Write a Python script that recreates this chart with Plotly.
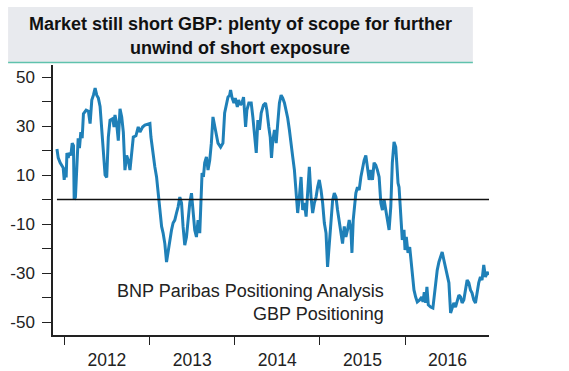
import pandas as pd
import plotly.graph_objects as go

# Weekly GBP positioning (decimal year, index value)
year_frac = [
    2011.915, 2011.930, 2011.953, 2011.988, 2012.000, 2012.015, 2012.023, 2012.032, 2012.047, 2012.058,
    2012.078, 2012.094, 2012.109, 2012.117, 2012.132, 2012.149, 2012.164, 2012.179, 2012.195, 2012.211,
    2012.226, 2012.257, 2012.284, 2012.304, 2012.324, 2012.343, 2012.363, 2012.382, 2012.401, 2012.421,
    2012.441, 2012.460, 2012.480, 2012.499, 2012.518, 2012.538, 2012.570, 2012.585, 2012.596, 2012.616,
    2012.635, 2012.655, 2012.675, 2012.694, 2012.713, 2012.733, 2012.752, 2012.772, 2012.792, 2012.811,
    2012.842, 2012.869, 2012.889, 2012.920, 2012.947, 2012.986,
    2013.006, 2013.018, 2013.033, 2013.049, 2013.064, 2013.084, 2013.103, 2013.123, 2013.143, 2013.161,
    2013.181, 2013.201, 2013.220, 2013.240, 2013.260, 2013.278, 2013.298, 2013.318, 2013.337, 2013.357,
    2013.377, 2013.395, 2013.415, 2013.435, 2013.454, 2013.474, 2013.494, 2013.512, 2013.532, 2013.552,
    2013.571, 2013.591, 2013.602, 2013.618, 2013.634, 2013.649, 2013.669, 2013.688, 2013.708, 2013.727,
    2013.746, 2013.766, 2013.786, 2013.805, 2013.836, 2013.863, 2013.883, 2013.903, 2013.922, 2013.942,
    2013.953, 2013.968, 2013.992,
    2014.008, 2014.032, 2014.047, 2014.070, 2014.090, 2014.105, 2014.129, 2014.144, 2014.167, 2014.195,
    2014.214, 2014.234, 2014.254, 2014.273, 2014.292, 2014.312, 2014.339, 2014.363, 2014.378, 2014.401,
    2014.418, 2014.433, 2014.448, 2014.468, 2014.488, 2014.506, 2014.526, 2014.546, 2014.565, 2014.585,
    2014.605, 2014.623, 2014.643, 2014.663, 2014.682, 2014.702, 2014.722, 2014.740, 2014.760, 2014.780,
    2014.799, 2014.819, 2014.839, 2014.857, 2014.877, 2014.897, 2014.916, 2014.936, 2014.956, 2014.974,
    2014.994,
    2015.014, 2015.033, 2015.053, 2015.073, 2015.091, 2015.111, 2015.131, 2015.150, 2015.170, 2015.190,
    2015.208, 2015.228, 2015.248, 2015.267, 2015.287, 2015.306, 2015.325, 2015.345, 2015.365, 2015.377,
    2015.392, 2015.407, 2015.423, 2015.442, 2015.462, 2015.482, 2015.501, 2015.520, 2015.540, 2015.559,
    2015.579, 2015.599, 2015.618, 2015.637, 2015.657, 2015.676, 2015.696, 2015.716, 2015.735, 2015.754,
    2015.774, 2015.793, 2015.813, 2015.833, 2015.851, 2015.871, 2015.891, 2015.903, 2015.918, 2015.930,
    2015.950, 2015.968, 2015.988,
    2016.000, 2016.015, 2016.035, 2016.055, 2016.070, 2016.085, 2016.105, 2016.125, 2016.144, 2016.172,
    2016.195, 2016.211, 2016.226, 2016.242, 2016.257, 2016.273, 2016.301, 2016.327, 2016.343, 2016.359,
    2016.378, 2016.398, 2016.418, 2016.436, 2016.456, 2016.476, 2016.495, 2016.515, 2016.535, 2016.553,
    2016.573, 2016.593, 2016.612, 2016.632, 2016.652, 2016.670, 2016.690, 2016.710, 2016.729, 2016.749,
    2016.768, 2016.787, 2016.807, 2016.827, 2016.846, 2016.865, 2016.885, 2016.904, 2016.924, 2016.944,
    2016.963, 2016.982,
]
positioning = [
    20.6, 17, 15, 13, 8, 13, 9, 19, 17, 19,
    18, 23, 22, 0, 1, 12, 25, 21, 27.5, 25,
    35, 36.5, 36, 31, 40.6, 42.6, 45.5, 42.6, 41.4, 38,
    28, 17.4, 10, 9, 25.5, 32.4, 33, 29.6, 34.5, 31,
    24, 37, 33.7, 27.5, 12, 18, 16, 12, 18, 25.5,
    26, 29.6, 27.5, 29.6, 30.4, 30.8,
    31, 25.5, 21.4, 16, 13.3, 9.2, 2.6, -3, -11, -13.7,
    -18, -25.5, -20.6, -16.5, -12.4, -9.6, -8.4, -5.5, -3, 1,
    -1.4, -11, -18.6, -15.3, -7, -1.4, 2.6, -4.3, -12.4, -15.3,
    -8.4, -13.7, 1, 10.8, 9.2, 15, 17.4, 12, 16, 23,
    33.7, 29.6, 25.5, 23, 21.4, 23, 35.3, 39.4, 41.8, 42.6,
    44.7, 41.8, 39.4,
    41.4, 37.8, 40.6, 38.6, 39.8, 41.8, 29.6, 36.5, 39.4, 39.4,
    33.7, 25.5, 19, 32.4, 28.4, 35.3, 38.6, 39.4, 36.5, 29.6,
    25.5, 17, 24, 28.4, 23, 31, 39.4, 42.6, 41.4, 39.4,
    36.5, 33.3, 28.4, 21.4, 17.4, 12, 1, -5.5, 1, 9.2,
    -4.3, -1.4, -7, 3.9, 13.3, 1, -5.5, -1.4, 1, 5,
    8,
    3.9, -1.4, -9.6, -13.7, -27.5, -18, -7, -0.5, 2.6, 1,
    -4.3, -8.4, -12.4, -18, -11, -15.3, -12.4, -8.4, -12.4, -21.8,
    -8.4, -1.4, 2.6, 5, 3.9, 9.2, 13.3, 16, 18, 13.3,
    8, 12, 8, 15, 14, 12, 9.2, -1.4, -4.3, 0,
    -4.3, -8.4, -12.4, -3, 15, 23.5, 21.4, 15, 6.7, 5,
    -9.6, -16.5, -12.4,
    -20.6, -15.3, -21.8, -19.4, -24.7, -31.6, -36.9, -39.8, -41.8, -41,
    -39.8, -41.8, -37.8, -42.2, -35.7, -43, -43.9, -44.3, -39.8, -32.9,
    -28.8, -25.5, -23.5, -21.4, -24.7, -27.5, -30, -34, -46.3, -43.9,
    -42.2, -43.9, -41, -39, -39.8, -42.2, -41, -36.9, -32.9, -34,
    -36.9, -38.2, -41, -42.2, -36.9, -34, -31.6, -32.9, -26.7, -31.6,
    -29.6, -30.8,
]

y_tick_vals = [-50, -40, -30, -20, -10, 0, 10, 20, 30, 40, 50]
y_tick_text = ["-50", "", "-30", "", "-10", "", "10", "", "30", "", "50"]

title_lines = ["Market still short GBP: plenty of scope for further", "unwind of short exposure"]
note_lines = ["BNP Paribas Positioning Analysis", "GBP Positioning"]

x_range = ["2011-11-14", "2016-12-26"]

dates = [pd.Timestamp("2012-01-01") + pd.to_timedelta((t - 2012) * 365.25, unit="D") for t in year_frac]

fig = go.Figure()
fig.add_trace(go.Scatter(
    x=dates, y=positioning, mode="lines",
    line=dict(color="#1f80b8", width=3),
    showlegend=False, hoverinfo="skip",
))

FONT = "Liberation Sans, Arial, sans-serif"

fig.update_layout(
    width=569, height=371,
    margin=dict(l=53, r=80, t=65, b=36),
    paper_bgcolor="white", plot_bgcolor="white",
    font=dict(family=FONT, color="#222222"),
    xaxis=dict(
        type="date", automargin=False,
        range=x_range,
        tick0="2012-01-01", dtick="M12",
        tickformat="%Y", ticklabelmode="period",
        ticks="outside", ticklen=8, tickwidth=1.3, tickcolor="#222222",
        showline=True, linecolor="#222222", linewidth=1.5,
        showgrid=False, zeroline=False,
        tickfont=dict(size=17.5, color="#222222"),
    ),
    yaxis=dict(
        automargin=False,
        range=[-55.3, 54.9],
        tickvals=y_tick_vals, ticktext=y_tick_text,
        ticks="outside", ticklen=9, tickwidth=1.3, tickcolor="#222222",
        showline=True, linecolor="#222222", linewidth=1.5,
        showgrid=False, zeroline=False,
        tickfont=dict(size=17, color="#222222"),
        ticklabelstandoff=4,
    ),
    shapes=[
        dict(type="rect", xref="paper", yref="paper",
             x0=-0.103, x1=0.963, y0=1.011, y1=1.215,
             fillcolor="#e8eaee", line=dict(width=0), layer="below"),
        dict(type="line", xref="paper", yref="paper",
             x0=-0.103, x1=0.963, y0=1.009, y1=1.009,
             line=dict(color="#5fc2ad", width=1.5)),
        dict(type="line", xref="x", yref="y",
             x0=dates[0], x1=x_range[1], y0=0, y1=0,
             line=dict(color="#111111", width=1.6), layer="above"),
    ],
    annotations=[
        dict(text="<b>" + title_lines[0] + "</b>", xref="paper", yref="paper",
             x=0.429, y=1.152, xanchor="center", yanchor="middle", showarrow=False,
             font=dict(size=18, color="#111111", family=FONT)),
        dict(text="<b>" + title_lines[1] + "</b>", xref="paper", yref="paper",
             x=0.429, y=1.063, xanchor="center", yanchor="middle", showarrow=False,
             font=dict(size=18, color="#111111", family=FONT)),
        dict(text=note_lines[0], xref="paper", yref="paper",
             x=0.764, y=0.163, xanchor="right", yanchor="middle", showarrow=False,
             font=dict(size=18, color="#222222", family=FONT)),
        dict(text=note_lines[1], xref="paper", yref="paper",
             x=0.764, y=0.078, xanchor="right", yanchor="middle", showarrow=False,
             font=dict(size=18, color="#222222", family=FONT)),
    ],
)

fig.write_html("out.html", config={"displayModeBar": False},
               post_script="document.body.style.margin='0';")
